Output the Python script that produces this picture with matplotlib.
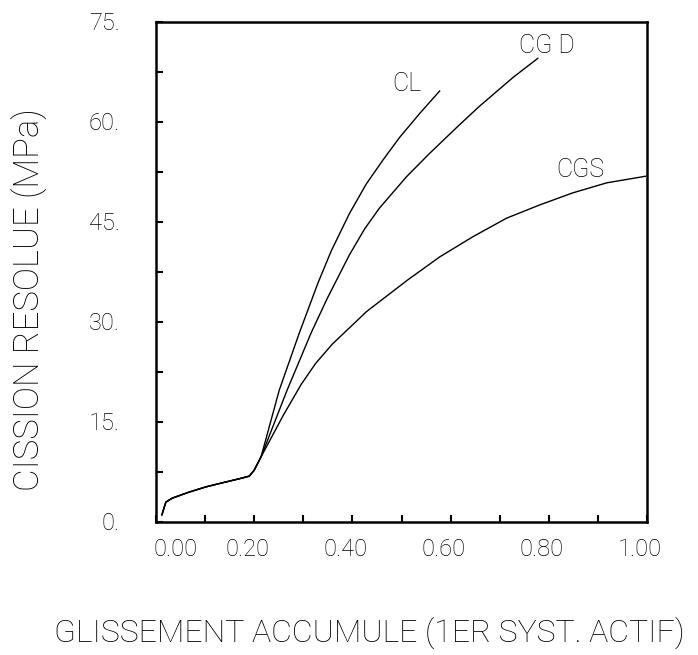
import matplotlib
matplotlib.use("Agg")
import matplotlib.pyplot as plt
from matplotlib.transforms import ScaledTranslation

plt.rcParams['font.family'] = ['Roboto', 'DejaVu Sans']
plt.rcParams['font.weight'] = 'light'
plt.rcParams['axes.labelweight'] = 'light'

# shared initial part
x_start = [0.012, 0.020, 0.033, 0.067, 0.102, 0.135, 0.169, 0.190, 0.200, 0.214]
y_start = [0.98, 2.9, 3.5, 4.4, 5.2, 5.8, 6.4, 6.8, 7.7, 9.7]

x_cl = [0.251, 0.292, 0.330, 0.357, 0.394, 0.428, 0.462, 0.496, 0.537, 0.578]
y_cl = [19.7, 28.3, 35.8, 40.6, 46.2, 50.6, 54.2, 57.6, 61.2, 64.6]

x_cgd = [0.267, 0.316, 0.349, 0.394, 0.425, 0.455, 0.510, 0.557, 0.618, 0.659, 0.727, 0.778]
y_cgd = [19.7, 28.3, 33.5, 40.0, 43.9, 47.0, 51.7, 55.2, 59.5, 62.3, 66.6, 69.5]

x_cgs = [0.259, 0.296, 0.325, 0.359, 0.429, 0.512, 0.578, 0.645, 0.714, 0.782, 0.849, 0.918, 0.998]
y_cgs = [15.9, 20.6, 23.7, 26.6, 31.5, 36.2, 39.7, 42.7, 45.5, 47.5, 49.3, 50.8, 51.8]

curve_labels = ["CL", "CG D", "CGS"]
label_x = [0.510, 0.796, 0.865]
label_y = [65.6, 71.3, 52.7]

x_tick_labels = ["0.00", "0.20", "0.40", "0.60", "0.80", "1.00"]
y_tick_labels = ["0.", "15.", "30.", "45.", "60.", "75."]

fig = plt.figure(figsize=(6.98, 6.55), dpi=100)
W, H = 698, 655
left, right, top, bottom = 156, 647, 21.5, 521.5
ax = fig.add_axes([left / W, 1 - bottom / H, (right - left) / W, (bottom - top) / H])

lw = 1.0
for xs, ys in [(x_cl, y_cl), (x_cgd, y_cgd), (x_cgs, y_cgs)]:
    ax.plot(x_start + xs, y_start + ys, color='black', lw=lw,
            solid_capstyle='round', solid_joinstyle='round')

for t, lx, ly in zip(curve_labels, label_x, label_y):
    ax.text(lx, ly, t, ha='center', va='center', fontsize=18, color='black')

ax.set_xlim(0, 1.0)
ax.set_ylim(0, 75)
ax.set_xticks([i / 10 for i in range(11)])
ax.set_xticklabels(["" if i % 2 else x_tick_labels[i // 2] for i in range(11)])
ax.set_yticks([i * 7.5 for i in range(11)])
ax.set_yticklabels(["" if i % 2 else y_tick_labels[i // 2] for i in range(11)])

ax.tick_params(direction='in', length=5, width=1.5, labelsize=17, top=False, right=False,
               labelcolor='black')
ax.tick_params(axis='x', pad=12)
ax.tick_params(axis='y', pad=26)
for s in ax.spines.values():
    s.set_linewidth(1.8)

ax.set_xlabel("GLISSEMENT ACCUMULE (1ER SYST. ACTIF)", fontsize=23)
ax.set_ylabel("CISSION RESOLUE (MPa)", fontsize=25)
ax.xaxis.label.set_va('center')
ax.yaxis.label.set_va('center')
ax.xaxis.set_label_coords((369 - left) / (right - left), (bottom - 633) / (bottom - top))
ax.yaxis.set_label_coords((30 - left) / (right - left), (bottom - 300) / (bottom - top))

# shift the first x tick label to the right (as in the reference)
xl = ax.get_xticklabels()
xl[0].set_transform(xl[0].get_transform() + ScaledTranslation(0.2, 0, fig.dpi_scale_trans))
for lab in xl[1:]:
    lab.set_transform(lab.get_transform() + ScaledTranslation(-0.07, 0, fig.dpi_scale_trans))

fig.savefig("out.png", dpi=100)
